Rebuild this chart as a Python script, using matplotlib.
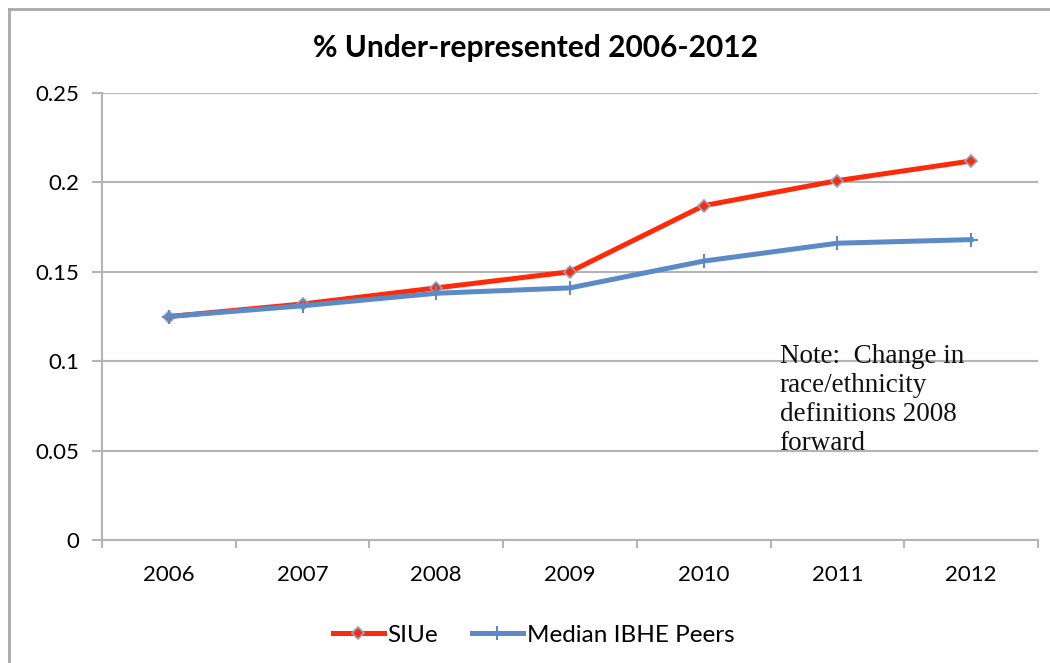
import matplotlib
matplotlib.use("Agg")
import matplotlib.pyplot as plt
from matplotlib.lines import Line2D

# ---------------- DATA ----------------
years = ["2006", "2007", "2008", "2009", "2010", "2011", "2012"]
siue = [0.125, 0.132, 0.141, 0.150, 0.187, 0.201, 0.212]
median_peers = [0.125, 0.131, 0.138, 0.141, 0.156, 0.166, 0.168]
y_ticks = [0, 0.05, 0.1, 0.15, 0.2, 0.25]
y_labels = ["0", "0.05", "0.1", "0.15", "0.2", "0.25"]
# --------------------------------------

RED = "#FF2A0A"
BLUE = "#5B8AC6"
GRID = "#B4B4B4"

plt.rcParams["font.family"] = ["Lato", "DejaVu Sans"]

fig = plt.figure(figsize=(10.5, 6.63), dpi=100)
ax = fig.add_axes([0.0971, 0.1855, 0.8914, 0.6742])

x = list(range(len(years)))
ax.plot(x, siue, color=RED, lw=3.6, marker="D", ms=6,
        mfc=RED, mec="#8FA3BF", mew=1.2, label="SIUe", zorder=3)
ax.plot(x, median_peers, color=BLUE, lw=3.6, marker="+", ms=10,
        mec=BLUE, mew=1.5, label="Median IBHE Peers", zorder=4)

ax.set_xlim(-0.5, len(years) - 0.5)
ax.set_ylim(0, 0.25)
ax.set_yticks(y_ticks)
ax.set_yticklabels(y_labels)
ax.set_xticks(x)
ax.set_xticklabels(years)
ax.set_xticks([i - 0.5 for i in range(len(years) + 1)], minor=True)

ax.grid(axis="y", color=GRID, lw=1.5)
ax.set_axisbelow(True)
for s in ["top", "right"]:
    ax.spines[s].set_visible(False)
for s in ["left", "bottom"]:
    ax.spines[s].set_color(GRID)
    ax.spines[s].set_linewidth(1.5)

ax.tick_params(axis="y", length=7, width=1.5, color=GRID, labelsize=16, pad=9)
ax.tick_params(axis="x", which="major", length=0, labelsize=16, pad=18)
ax.tick_params(axis="x", which="minor", length=6, width=1.5, color=GRID)

ax.text(0.724, 0.438,
        "Note:  Change in\nrace/ethnicity\ndefinitions 2008\nforward",
        transform=ax.transAxes, family="Liberation Serif", fontsize=19.5,
        va="top", ha="left", linespacing=1.2, color="#111111")

fig.text(0.51, 0.928, "% Under-represented 2006-2012", ha="center", va="center",
         fontsize=21.5, fontweight="bold")

ax.legend(loc="center", bbox_to_anchor=(0.461, -0.213), ncol=2, frameon=False,
          fontsize=17.5, handlelength=2.1, columnspacing=1.4, handletextpad=0.15)

# outer chart frame (only top and left visible in the crop)
fig.add_artist(Line2D([9 / 1050, 1.01], [654 / 663, 654 / 663],
                      transform=fig.transFigure, color="#A8A8A8", lw=2))
fig.add_artist(Line2D([9 / 1050, 9 / 1050], [-0.01, 654 / 663],
                      transform=fig.transFigure, color="#A8A8A8", lw=2))

fig.savefig("out.png", dpi=100)
